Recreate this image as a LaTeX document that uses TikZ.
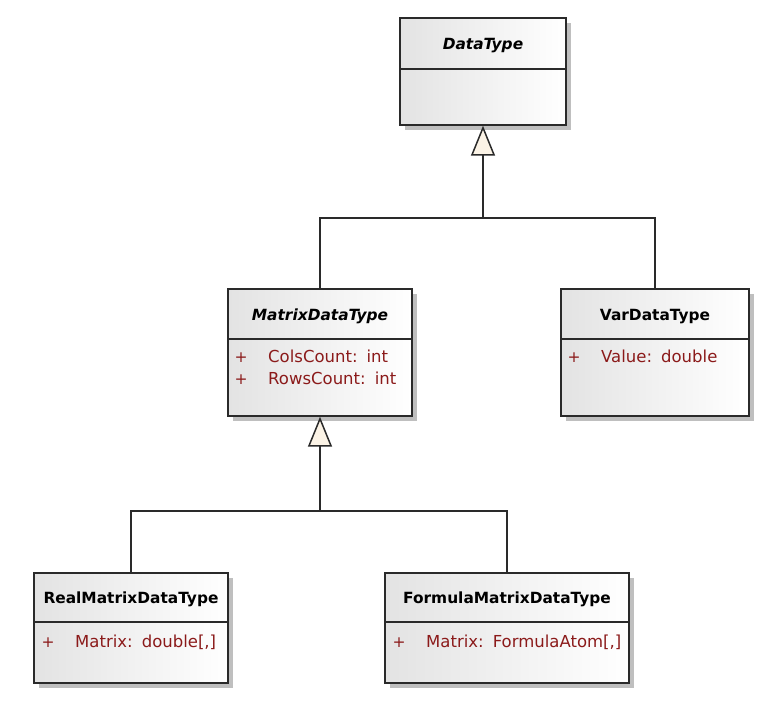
\documentclass[tikz,border=0pt]{standalone}
\usepackage{fontspec}
\setmainfont{DejaVu Sans}
\usetikzlibrary{arrows.meta,shadows}
\definecolor{attrred}{HTML}{8B1A1A}
\definecolor{arrowfill}{HTML}{FBF3E6}
\definecolor{edgecol}{HTML}{2A2A2A}
\begin{document}
\begin{tikzpicture}[x=1pt,y=-1pt,
  classbox/.style={draw=edgecol, line width=1.4pt, rectangle, inner sep=0pt,
    left color=black!11, right color=white,
    drop shadow={shadow xshift=5pt, shadow yshift=-5pt, fill=black!25, opacity=1}},
  sepline/.style={draw=edgecol, line width=1.4pt},
  ctitle/.style={inner sep=0pt, anchor=base, font=\fontsize{15.4}{18}\selectfont\bfseries},
  atitle/.style={ctitle, font=\fontsize{15.4}{18}\selectfont\bfseries\itshape},
  vis/.style={inner sep=0pt, anchor=base, text=attrred, font=\fontsize{15.5}{17}\selectfont},
  attr/.style={inner sep=0pt, anchor=base west, text=attrred, font=\fontsize{16.5}{19}\selectfont},
  conn/.style={draw=edgecol, line width=1.5pt},
  gen/.style={conn, -{Triangle[length=30pt,width=24pt,fill=arrowfill]}}
]
\useasboundingbox (0,0) rectangle (778,701);

% DataType
\node[classbox, minimum width=166pt, minimum height=107pt] (dt) at (483,71.5) {};
\draw[sepline] (400,69) -- (566,69);
\node[atitle] (dtT) at (483,49.5) {DataType};

% MatrixDataType
\node[classbox, minimum width=184pt, minimum height=127pt] (mdt) at (320,352.5) {};
\draw[sepline] (228,339) -- (412,339);
\node[atitle] (mdtT) at (320,320) {MatrixDataType};
\node[vis] (mdtV1) at (241,362.5) {+};
\node[attr] (mdtA1) at (268,362.5) {ColsCount:\hspace{0.55em}int};
\node[vis] (mdtV2) at (241,384.5) {+};
\node[attr] (mdtA2) at (268,384.5) {RowsCount:\hspace{0.55em}int};

% VarDataType
\node[classbox, minimum width=188pt, minimum height=127pt] (vdt) at (655,352.5) {};
\draw[sepline] (561,339) -- (749,339);
\node[ctitle] (vdtT) at (655,320) {VarDataType};
\node[vis] (vdtV1) at (574,362.5) {+};
\node[attr] (vdtA1) at (601,362.5) {Value:\hspace{0.55em}double};

% RealMatrixDataType
\node[classbox, minimum width=194pt, minimum height=110pt] (rmdt) at (131,628) {};
\draw[sepline] (34,622) -- (228,622);
\node[ctitle] (rmdtT) at (131,603.5) {RealMatrixDataType};
\node[vis] (rmdtV1) at (48,647.5) {+};
\node[attr] (rmdtA1) at (75,647.5) {Matrix:\hspace{0.55em}double[,]};

% FormulaMatrixDataType
\node[classbox, minimum width=244pt, minimum height=110pt] (fmdt) at (507,628) {};
\draw[sepline] (385,622) -- (629,622);
\node[ctitle] (fmdtT) at (507,603.5) {FormulaMatrixDataType};
\node[vis] (fmdtV1) at (399,647.5) {+};
\node[attr] (fmdtA1) at (426,647.5) {Matrix:\hspace{0.55em}FormulaAtom[,]};

% generalizations
\coordinate (j1) at (483,218);
\coordinate (j2) at (320,511);
\draw[conn] (mdt.north) |- (j1);
\draw[conn] (vdt.north) |- (j1);
\draw[gen] (j1) -- (dt.south);
\draw[conn] (rmdt.north) |- (j2);
\draw[conn] (fmdt.north) |- (j2);
\draw[gen] (j2) -- (mdt.south);
\end{tikzpicture}
\end{document}
